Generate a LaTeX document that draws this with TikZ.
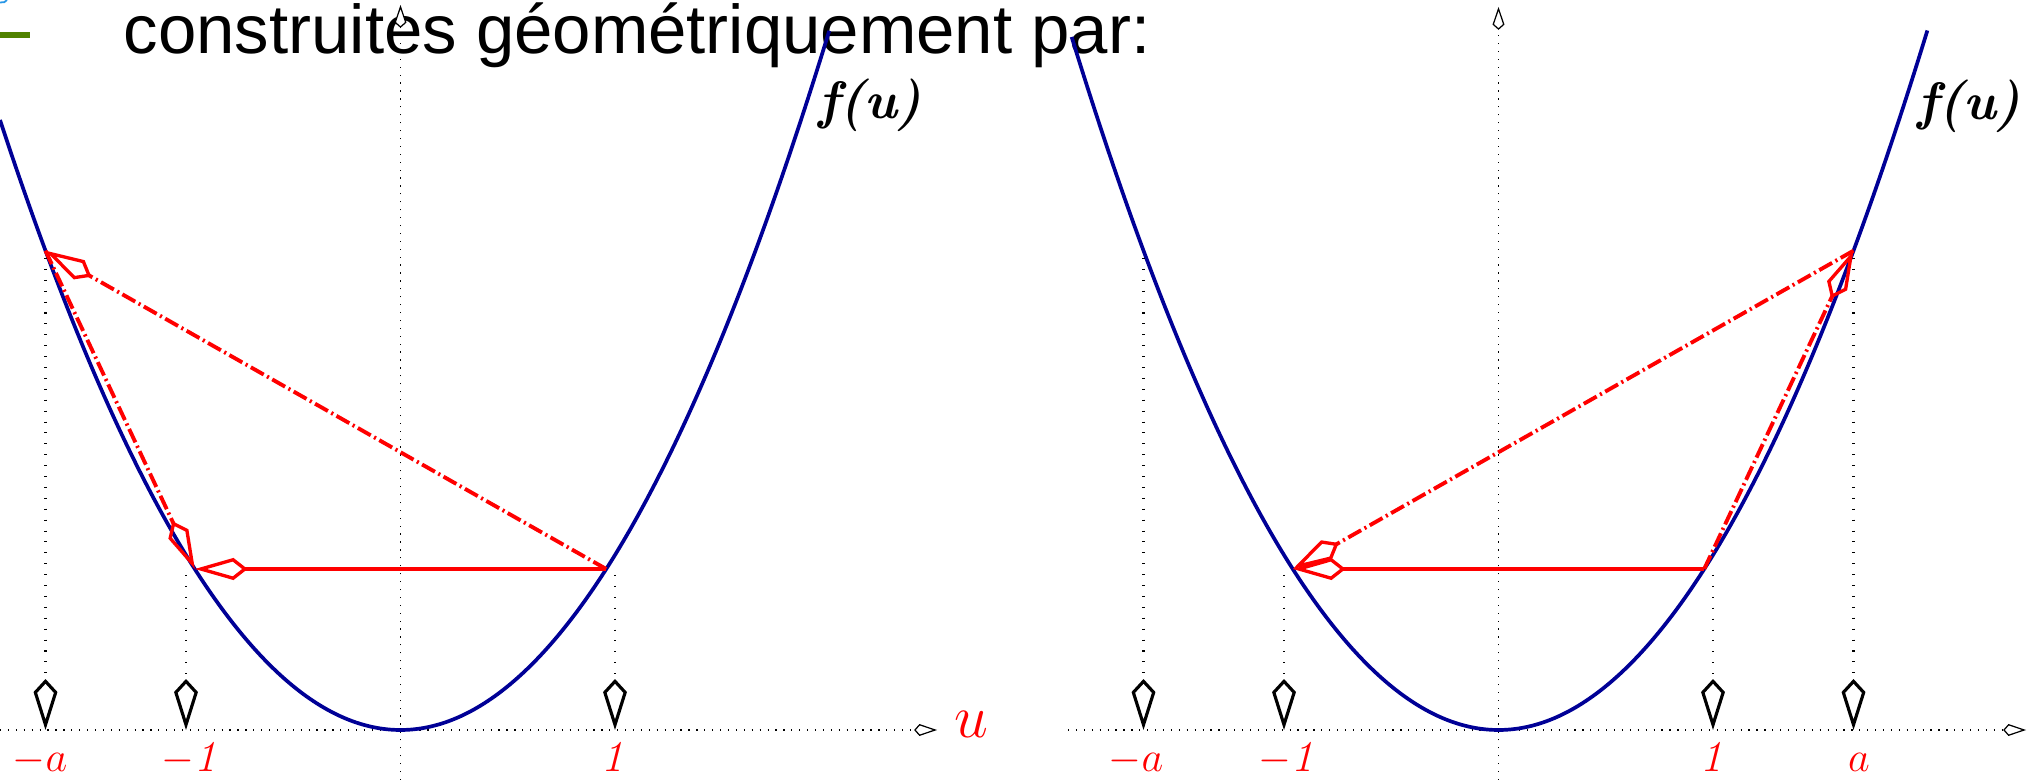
\documentclass[tikz,border=0pt]{standalone}
\usepackage{fontspec}
\newfontfamily\sansf{Liberation Sans}
\usetikzlibrary{arrows.meta}
\definecolor{curveblue}{RGB}{0,0,150}
\definecolor{barg}{RGB}{80,130,0}
\definecolor{tinyblue}{RGB}{40,150,230}
\tikzset{
 ax/.style={black, line width=0.55pt, dash pattern=on 0.35pt off 1.9pt, -{Kite[fill=white, line width=0.35pt, length=6.5pt, width=3.4pt, inset=1.5pt]}},
 drop/.style={black, line width=0.8pt, dash pattern=on 0.3pt off 2.8pt, -{Kite[open, line width=0.9pt, length=14.5pt, width=6.8pt, inset=3.7pt]}},
 curve/.style={curveblue, line width=1.05pt},
 redsolid/.style={red, line width=1.1pt, -{Kite[open, line width=0.95pt, length=15pt, width=6.3pt, inset=4pt]}},
 reddash/.style={redsolid, dash pattern=on 4.2pt off 1.1pt on 0.6pt off 1.1pt},
 lab/.style={red, anchor=base, inner sep=0, font=\fontsize{12.5}{13}\selectfont\itshape},
 flab/.style={font=\fontsize{15}{15}\selectfont\bfseries\itshape},
}
\begin{document}
\begin{tikzpicture}[x=0.01cm, y=-0.01cm]
\useasboundingbox (0,0) rectangle (2027,780);
% title and decorations
\node[anchor=base west, inner sep=0, font=\sansf\fontsize{19.6}{20}\selectfont] (title) at (123,54) {construites géométriquement par:};
\fill[barg] (0,32) rectangle (30,38);
\draw[tinyblue, line width=0.5pt] (0,2.5) .. controls (3,3) and (6,2) .. (7,0);
% coordinates
\coordinate (Lxs) at (0,730); \coordinate (Lxe) at (937,730);
\coordinate (Lys) at (400.5,780); \coordinate (Lye) at (400.5,5);
\coordinate (Rxs) at (1068,730); \coordinate (Rxe) at (2026,730);
\coordinate (Rys) at (1498.5,780); \coordinate (Rye) at (1498.5,7);
% axes
\draw[ax] (Lxs) -- (Lxe);
\draw[ax] (Lys) -- (Lye);
\draw[ax] (Rxs) -- (Rxe);
\draw[ax] (Rys) -- (Rye);
% curves
\draw[curve] plot[domain=-1.867:2, samples=120, smooth] ({400.5+214.5*\x},{730-175*\x*\x});
\draw[curve] plot[domain=-1.99:2, samples=120, smooth] ({1498.5+214.5*\x},{730-175*\x*\x});
% points on curves
\coordinate (La) at (45.5,250.7); \coordinate (Lm1) at (194.8,569); \coordinate (L1) at (606.2,569);
\coordinate (Ra) at (1853.5,250.7); \coordinate (Rm1) at (1292.8,569); \coordinate (R1) at (1704.2,569);
% drop lines
\coordinate (Lda) at (45.5,258); \coordinate (Lta) at (45.5,730);
\coordinate (Ldm) at (186,575); \coordinate (Ltm) at (186,730);
\coordinate (Ldp) at (615,575); \coordinate (Ltp) at (615,730);
\coordinate (Rdma) at (1143.5,258); \coordinate (Rtma) at (1143.5,730);
\coordinate (Rdm) at (1284,575); \coordinate (Rtm) at (1284,730);
\coordinate (Rdp) at (1713,575); \coordinate (Rtp) at (1713,730);
\coordinate (Rda) at (1853.5,258); \coordinate (Rta) at (1853.5,730);
\draw[drop] (Lda) -- (Lta);
\draw[drop] (Ldm) -- (Ltm);
\draw[drop] (Ldp) -- (Ltp);
\draw[drop] (Rdma) -- (Rtma);
\draw[drop] (Rdm) -- (Rtm);
\draw[drop] (Rdp) -- (Rtp);
\draw[drop] (Rda) -- (Rta);
% red constructions
\draw[redsolid] (L1) -- (Lm1);
\draw[reddash] (L1) -- (La);
\draw[reddash] (La) -- (Lm1);
\draw[redsolid] (R1) -- (Rm1);
\draw[reddash] (Ra) -- (Rm1);
\draw[reddash] (R1) -- (Ra);
% labels
\node[lab] (lLa) at (40,771.5) {$-a$};
\node[lab] (lLm) at (189,771.5) {$-$\textit{1}};
\node[lab] (lLp) at (612,771.5) {\textit{1}};
\node[lab, font=\fontsize{17}{17}\selectfont] (lu) at (971,738) {$u$};
\node[lab] (lRma) at (1136,771.5) {$-a$};
\node[lab] (lRm) at (1286,771.5) {$-$\textit{1}};
\node[lab] (lRp) at (1711,771.5) {\textit{1}};
\node[lab] (lRa) at (1859,771.5) {$a$};
\node[flab] (fL) at (870,105) {f(u)};
\node[flab] (fR) at (1969,106) {f(u)};
\end{tikzpicture}
\end{document}
